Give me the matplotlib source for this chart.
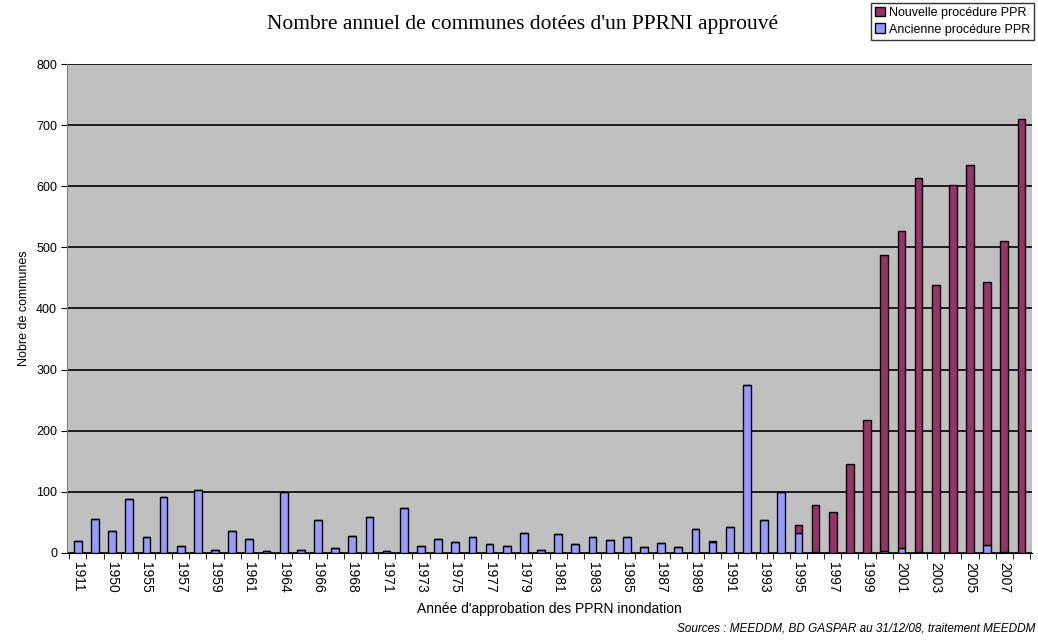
import numpy as np
import matplotlib.pyplot as plt
import matplotlib.patches as mpatches

plt.rcParams['font.family'] = ['Liberation Sans', 'DejaVu Sans']

annees = ['1911', '1930', '1950', '1952', '1955', '1956', '1957', '1958', '1959', '1960',
          '1961', '1962', '1964', '1965', '1966', '1967', '1968', '1970', '1971', '1972',
          '1973', '1974', '1975', '1976', '1977', '1978', '1979', '1980', '1981', '1982',
          '1983', '1984', '1985', '1986', '1987', '1988', '1989', '1990', '1991', '1992',
          '1993', '1994', '1995', '1996', '1997', '1998', '1999', '2000', '2001', '2002',
          '2003', '2004', '2005', '2006', '2007', '2008']
ancienne = [20, 55, 35, 88, 26, 92, 11, 103, 5, 35,
            23, 3, 99, 5, 53, 7, 28, 58, 3, 74,
            11, 23, 18, 25, 14, 11, 32, 4, 30, 14,
            25, 21, 25, 9, 16, 9, 39, 18, 43, 274,
            53, 100, 33, 1, 0, 0, 0, 3, 8, 1,
            0, 0, 0, 12, 2, 0]
nouvelle = [0, 0, 0, 0, 0, 0, 0, 0, 0, 0,
            0, 0, 0, 0, 0, 0, 0, 0, 0, 0,
            0, 0, 0, 0, 0, 0, 0, 0, 0, 0,
            0, 0, 0, 0, 0, 0, 0, 2, 0, 0,
            0, 0, 12, 77, 67, 145, 218, 485, 519, 613,
            439, 602, 635, 431, 508, 711]

x = np.arange(len(annees))
fig = plt.figure(figsize=(10.38, 6.42), dpi=100)
ax = fig.add_axes([0.065, 0.139, 0.929, 0.761])
ax.set_facecolor('#c0c0c0')

ax.bar(x, ancienne, width=0.45, color='#9999ff', edgecolor='black', linewidth=1, zorder=3)
ax.bar(x, nouvelle, width=0.45, bottom=ancienne, color='#993366', edgecolor='black', linewidth=1, zorder=3)

ax.set_ylim(0, 800)
ax.set_xlim(-0.6, len(annees) - 0.4)
ax.set_yticks(range(0, 801, 100))
ax.yaxis.grid(True, color='black', linewidth=1.2, zorder=1)
ax.tick_params(axis='y', labelsize=9, length=4, direction='out')

ax.set_xticks(x[::2])
ax.set_xticklabels(annees[::2], rotation=270, fontsize=10)
ax.tick_params(axis='x', length=0, pad=7)
ax.set_xticks(np.arange(-0.5, len(annees), 1), minor=True)
ax.tick_params(axis='x', which='minor', length=4)

for s in ['top', 'right']:
    ax.spines[s].set_visible(False)
ax.spines['left'].set_color('#808080')
ax.spines['bottom'].set_color('black')

ax.set_ylabel('Nobre de communes', fontsize=9)
ax.set_xlabel("Année d'approbation des PPRN inondation", fontsize=10, labelpad=6)

fig.text(0.503, 0.962, "Nombre annuel de communes dotées d'un PPRNI approuvé",
         ha='center', va='center', fontsize=15.5, family='Liberation Serif')

handles = [mpatches.Patch(facecolor='#993366', edgecolor='black', label='Nouvelle procédure PPR'),
           mpatches.Patch(facecolor='#9999ff', edgecolor='black', label='Ancienne procédure PPR')]
leg = fig.legend(handles=handles, loc='upper right', bbox_to_anchor=(0.999, 1.0), fontsize=9,
                 frameon=True, fancybox=False, edgecolor='black', handlelength=0.8, handleheight=0.8,
                 handletextpad=0.3, borderpad=0.35, labelspacing=0.35, borderaxespad=0.2)
leg.get_frame().set_linewidth(1)

fig.text(0.997, 0.012, 'Sources : MEEDDM, BD GASPAR au 31/12/08, traitement MEEDDM',
         ha='right', va='bottom', fontsize=8.5, style='italic')

fig.savefig('out.png', dpi=100)
